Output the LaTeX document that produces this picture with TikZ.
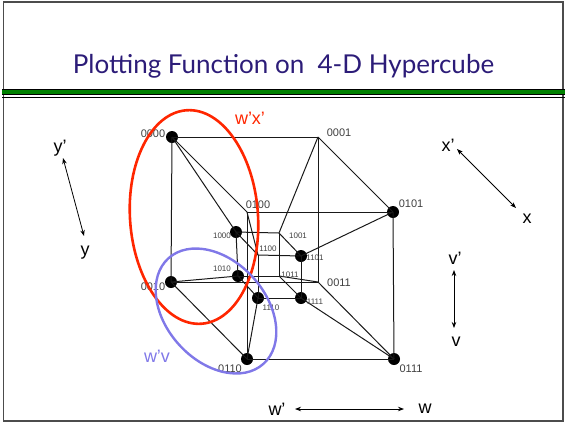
\documentclass[tikz,border=0pt]{standalone}
\usepackage{fontspec}
\setmainfont{Liberation Sans}
\newfontfamily\titlefont{Lato}
\usetikzlibrary{arrows.meta, positioning}
\definecolor{cTitle}{RGB}{44,28,120}
\definecolor{cBar}{RGB}{0,128,0}
\definecolor{cRed}{RGB}{255,38,0}
\definecolor{cBlue}{RGB}{128,120,232}
\tikzset{
  vdot/.style={circle,fill=black,inner sep=0pt,minimum size=12pt},
  vnone/.style={inner sep=0pt,minimum size=0pt},
  vlabel/.style={font=\fontsize{11}{13}\selectfont,text=black!75,inner sep=0pt},
  vsmall/.style={font=\fontsize{8}{10}\selectfont,text=black!75,inner sep=0pt},
  axis/.style={font=\fontsize{18}{20}\selectfont,inner sep=0pt},
  edge/.style={line width=1pt,black!90},
  dbl/.style={{Stealth[length=6pt]}-{Stealth[length=6pt]},line width=0.8pt},
}
\begin{document}
\begin{tikzpicture}[x=1pt,y=-1pt]
  \useasboundingbox (0,0) rectangle (565,424);
  % frame and title rule
  \draw[black!70,line width=1.2pt] (3.5,2) rectangle (563,421);
  \fill[cBar] (2,89) rectangle (565,94);
  \draw[line width=1pt] (2,89) -- (565,89) (2,94) -- (565,94) (2,97.5) -- (565,97.5);
  \node[font=\titlefont\fontsize{26}{30}\selectfont,text=cTitle] (title) at (283.5,66) {Plotting Function on\ \ 4-D Hypercube};
  % vertices
  \node[vdot] (v0000) at (172,137) {};
  \node[vnone] (v0001) at (318,137) {};
  \node[vdot] (v0010) at (171,282) {};
  \node[vnone] (v0011) at (318,282) {};
  \node[vnone] (v0100) at (247,212) {};
  \node[vdot] (v0101) at (393,212) {};
  \node[vdot] (v0110) at (247,359) {};
  \node[vdot] (v0111) at (394,359) {};
  \node[vdot] (v1000) at (236,232) {};
  \node[vnone] (v1001) at (279,233) {};
  \node[vdot] (v1010) at (238,276) {};
  \node[vnone] (v1011) at (279,276) {};
  \node[vnone] (v1100) at (258,255) {};
  \node[vdot] (v1101) at (301,256) {};
  \node[vdot] (v1110) at (258,298) {};
  \node[vdot] (v1111) at (301,298) {};
  % edges
  \foreach \a/\b in {0000/0001,0000/0010,0000/0100,0000/1000,0001/0011,0001/0101,0001/1001,
    0010/0011,0010/0110,0010/1010,0011/0111,0011/1011,0100/0101,0100/0110,0100/1100,
    0101/0111,0101/1101,0110/0111,0110/1110,0111/1111,1000/1001,1000/1010,1000/1100,
    1001/1011,1001/1101,1010/1011,1010/1110,1011/1111,1100/1101,1100/1110,1101/1111,1110/1111}
    \draw[edge] (v\a.center) -- (v\b.center);
  % vertex labels
  \node[vlabel] (l0000) at (153,134) {0000};
  \node[vlabel] (l0001) at (339,133) {0001};
  \node[vlabel] (l0010) at (153,287) {0010};
  \node[vlabel] (l0011) at (339,283) {0011};
  \node[vlabel] (l0100) at (258,205) {0100};
  \node[vlabel] (l0101) at (411,204) {0101};
  \node[vlabel] (l0110) at (230,369) {0110};
  \node[vlabel] (l0111) at (411,369) {0111};
  \node[vsmall] (l1000) at (222,236) {1000};
  \node[vsmall] (l1001) at (298,236) {1001};
  \node[vsmall] (l1010) at (222,269) {1010};
  \node[vsmall] (l1011) at (290,275) {1011};
  \node[vsmall] (l1100) at (268,249) {1100};
  \node[vsmall] (l1101) at (315,258) {1101};
  \node[vsmall] (l1110) at (271,308) {1110};
  \node[vsmall] (l1111) at (315,302) {1111};
  % loops
  \draw[cRed,line width=2.6pt,rotate around={4:(194,217)}] (194,217) ellipse (64 and 107);
  \draw[cBlue,line width=2.4pt,rotate around={42:(216,311)}] (216,311) ellipse (50 and 71);
  \node[axis,text=cRed] (wx) at (250,118) {w'x'};
  \node[axis,text=cBlue] (wv) at (157,356) {w'v};
  % axes
  \node[axis] (yp) at (60,148) {y'};
  \node[axis] (y) at (85,253) {y};
  \node[axis] (xp) at (448,145) {x'};
  \node[axis] (x) at (527,219) {x};
  \node[axis] (vp) at (455,258) {v'};
  \node[axis] (v) at (456,342) {v};
  \node[axis] (wp) at (277,409) {w'};
  \node[axis] (w) at (425,409) {w};
  \coordinate (a1) at (63,158);
  \coordinate (a2) at (84,236);
  \coordinate (b1) at (457,149);
  \coordinate (b2) at (516,208);
  \coordinate (c1) at (454,270);
  \coordinate (c2) at (454,328);
  \coordinate (d1) at (295,409);
  \coordinate (d2) at (404,409);
  \draw[dbl] (a1) -- (a2);
  \draw[dbl] (b1) -- (b2);
  \draw[dbl] (c1) -- (c2);
  \draw[dbl] (d1) -- (d2);
\end{tikzpicture}
\end{document}
